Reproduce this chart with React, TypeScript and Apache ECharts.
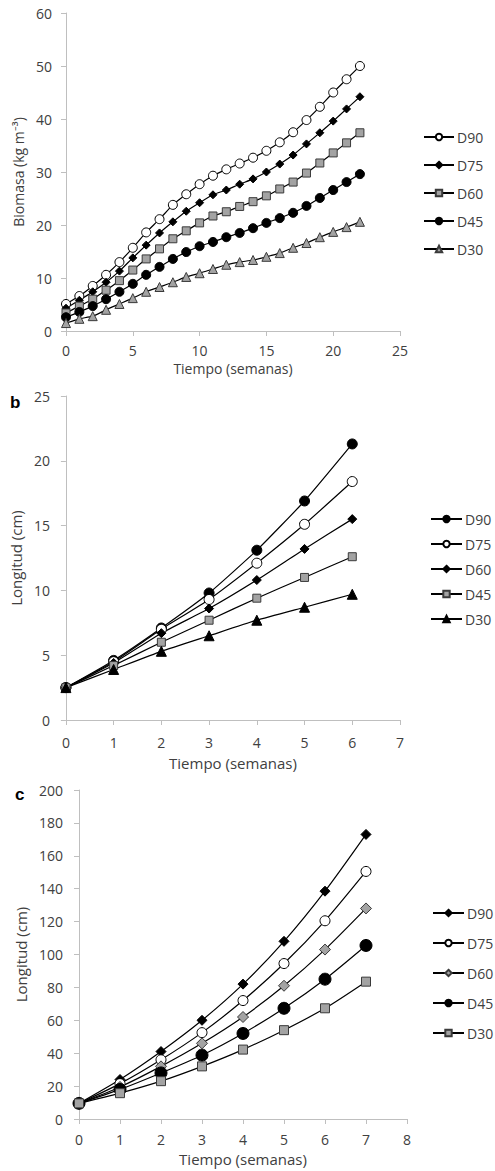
import React, { useEffect, useRef } from "react";
import * as echarts from "echarts";

// ---------- Data ----------
const weeksA = [0, 1, 2, 3, 4, 5, 6, 7, 8, 9, 10, 11, 12, 13, 14, 15, 16, 17, 18, 19, 20, 21, 22];
const aD90 = [5.1, 6.6, 8.5, 10.6, 13.0, 15.7, 18.6, 21.1, 23.8, 25.8, 27.7, 29.3, 30.5, 31.6, 32.7, 34.0, 35.6, 37.5, 39.8, 42.3, 45.0, 47.5, 50.0];
const aD75 = [4.3, 5.8, 7.4, 9.2, 11.3, 13.8, 16.2, 18.5, 20.6, 22.6, 24.2, 25.7, 26.6, 27.7, 28.7, 30.0, 31.5, 33.2, 35.3, 37.4, 39.6, 41.9, 44.2];
const aD60 = [3.4, 4.7, 6.0, 7.7, 9.5, 11.5, 13.6, 15.5, 17.4, 18.9, 20.4, 21.7, 22.5, 23.5, 24.4, 25.5, 26.8, 28.1, 29.8, 31.7, 33.6, 35.5, 37.4];
const aD45 = [2.6, 3.6, 4.7, 6.0, 7.4, 8.9, 10.6, 12.1, 13.6, 14.9, 16.0, 16.8, 17.7, 18.5, 19.4, 20.4, 21.3, 22.3, 23.6, 25.1, 26.6, 28.1, 29.6];
const aD30 = [1.5, 2.3, 2.8, 4.0, 5.1, 6.2, 7.4, 8.3, 9.2, 10.2, 10.9, 11.7, 12.5, 13.0, 13.4, 14.0, 14.7, 15.7, 16.6, 17.7, 18.7, 19.6, 20.6];

const weeksB = [0, 1, 2, 3, 4, 5, 6];
const bD90 = [2.5, 4.6, 7.1, 9.8, 13.1, 16.9, 21.3];
const bD75 = [2.5, 4.5, 7.0, 9.3, 12.1, 15.1, 18.4];
const bD60 = [2.5, 4.4, 6.7, 8.6, 10.8, 13.2, 15.5];
const bD45 = [2.5, 4.2, 6.0, 7.7, 9.4, 11.0, 12.6];
const bD30 = [2.5, 3.9, 5.3, 6.5, 7.7, 8.7, 9.7];

const weeksC = [0, 1, 2, 3, 4, 5, 6, 7];
const cD90 = [9.5, 24, 41, 60, 82, 108, 138.5, 173];
const cD75 = [9.5, 21.5, 36, 52.5, 72, 94.5, 120.5, 150.5];
const cD60 = [9.5, 19.5, 32, 46, 62, 81, 103, 128];
const cD45 = [9.5, 18, 28, 38.8, 52, 67.3, 85, 105.5];
const cD30 = [9.5, 15.7, 23, 32, 42.2, 54, 67.3, 83.5];

const seriesNames = ["D90", "D75", "D60", "D45", "D30"];
const xTitle = "Tiempo (semanas)";

// ---------- Styles ----------
const FONT = "Open Sans";
const TXT = "#404040";
const AXIS = "#bfbfbf";
const GRAY = "#a3a3a3";
const DARK = "#3a3a3a";

type MarkerStyle = { symbol: string; size: number; fill: string; border: string };

const mk = (symbol: string, size: number, fill: string, border = "#000"): MarkerStyle => ({ symbol, size, fill, border });

function lineSeries(name: string, xs: number[], ys: number[], m: MarkerStyle, smooth: number) {
  return {
    type: "line",
    name,
    data: xs.map((x, i) => [x, ys[i]]),
    smooth,
    symbol: m.symbol,
    symbolSize: m.size,
    showAllSymbol: true,
    lineStyle: { color: "#000", width: 1.2 },
    itemStyle: { color: m.fill, borderColor: m.border, borderWidth: 1 },
    emphasis: { disabled: true },
  };
}

type ChartCfg = {
  grid: { left: number; top: number; width: number; height: number };
  xMax: number;
  xInterval: number;
  yMax: number;
  yInterval: number;
  yName: string;
  yNameGap: number;
  yLabelMargin: number;
  xNameGap: number;
  xLabelMargin: number;
  nameSize: number;
  xs: number[];
  ys: number[][];
  markers: MarkerStyle[];
  smooth: number;
  legend: { left: number; top: number; gap: number; width: number };
  panel?: { text: string; x: number; y: number };
};

function buildOption(c: ChartCfg) {
  const series = seriesNames.map((n, i) => lineSeries(n, c.xs, c.ys[i], c.markers[i], c.smooth));
  const ax = {
    axisLine: { show: true, lineStyle: { color: AXIS, width: 1 } },
    axisTick: { show: true, inside: false, length: 5, lineStyle: { color: AXIS } },
    splitLine: { show: false },
    nameTextStyle: { color: TXT, fontSize: c.nameSize, fontFamily: FONT },
    nameLocation: "middle",
  };
  const labelBase = { color: TXT, fontSize: 14, fontFamily: FONT };
  return {
    animation: false,
    textStyle: { fontFamily: FONT },
    grid: { ...c.grid, containLabel: false },
    xAxis: {
      type: "value",
      min: 0,
      max: c.xMax,
      interval: c.xInterval,
      ...ax,
      axisLabel: { ...labelBase, margin: c.xLabelMargin },
      name: xTitle,
      nameGap: c.xNameGap,
    },
    yAxis: {
      type: "value",
      min: 0,
      max: c.yMax,
      interval: c.yInterval,
      ...ax,
      axisLabel: { ...labelBase, margin: c.yLabelMargin },
      name: c.yName,
      nameGap: c.yNameGap,
    },
    legend: {
      orient: "vertical",
      left: c.legend.left,
      top: c.legend.top,
      padding: 0,
      itemWidth: c.legend.width,
      itemHeight: 8,
      itemGap: c.legend.gap,
      selectedMode: false,
      textStyle: { color: TXT, fontSize: 14, fontFamily: FONT, padding: [0, 0, 0, -2] },
      data: seriesNames,
    },
    graphic: c.panel
      ? [
          {
            type: "text",
            left: c.panel.x,
            top: c.panel.y,
            style: { text: c.panel.text, font: "bold 17px 'Liberation Sans', Arial, sans-serif", fill: "#000" },
          },
        ]
      : [],
    series,
  };
}

const cfgA: ChartCfg = {
  grid: { left: 66, top: 13, width: 334, height: 318 },
  xMax: 25,
  xInterval: 5,
  yMax: 60,
  yInterval: 10,
  yName: "Biomasa (kg m⁻³)",
  yNameGap: 37,
  yLabelMargin: 14,
  xNameGap: 28,
  xLabelMargin: 12,
  nameSize: 14,
  xs: weeksA,
  ys: [aD90, aD75, aD60, aD45, aD30],
  markers: [
    mk("circle", 9, "#fff", "#000"),
    mk("diamond", 8, "#000"),
    mk("rect", 8, GRAY, DARK),
    mk("circle", 9, "#000"),
    mk("triangle", 9, GRAY, DARK),
  ],
  smooth: 0.2,
  legend: { left: 423, top: 130, gap: 14, width: 30 },
};

const cfgB: ChartCfg = {
  grid: { left: 65, top: 11, width: 335, height: 324 },
  xMax: 7,
  xInterval: 1,
  yMax: 25,
  yInterval: 5,
  yName: "Longitud (cm)",
  yNameGap: 37,
  yLabelMargin: 16,
  xNameGap: 35,
  xLabelMargin: 15,
  nameSize: 15,
  xs: weeksB,
  ys: [bD90, bD75, bD60, bD45, bD30],
  markers: [
    mk("circle", 10, "#000"),
    mk("circle", 10, "#fff", "#000"),
    mk("diamond", 9, "#000"),
    mk("rect", 8, GRAY, DARK),
    mk("triangle", 10, "#000"),
  ],
  smooth: 0.15,
  legend: { left: 430, top: 127, gap: 11, width: 31 },
  panel: { text: "b", x: 10, y: 9 },
};

const cfgC: ChartCfg = {
  grid: { left: 79, top: 15, width: 328, height: 330 },
  xMax: 8,
  xInterval: 1,
  yMax: 200,
  yInterval: 20,
  yName: "Longitud (cm)",
  yNameGap: 50,
  yLabelMargin: 16,
  xNameGap: 32,
  xLabelMargin: 13,
  nameSize: 15,
  xs: weeksC,
  ys: [cD90, cD75, cD60, cD45, cD30],
  markers: [
    mk("diamond", 10, "#000"),
    mk("circle", 10, "#fff", "#000"),
    mk("diamond", 11, GRAY, DARK),
    mk("circle", 12, "#000"),
    mk("rect", 9, GRAY, DARK),
  ],
  smooth: 0.25,
  legend: { left: 432, top: 131, gap: 16, width: 31 },
  panel: { text: "c", x: 15, y: 11 },
};

function Chart({ cfg, top, height }: { cfg: ChartCfg; top: number; height: number }) {
  const ref = useRef<HTMLDivElement>(null);
  useEffect(() => {
    if (!ref.current) return;
    const chart = echarts.init(ref.current, undefined, { renderer: "svg" });
    chart.setOption(buildOption(cfg) as any);
    return () => chart.dispose();
  }, [cfg]);
  return (
    <div
      ref={ref}
      style={{ position: "absolute", left: 0, top, width: 495, height, background: "#fff" }}
    />
  );
}

export default function App() {
  return (
    <div style={{ position: "absolute", left: 0, top: 0, width: 495, height: 1171, background: "#fff", overflow: "hidden" }}>
      <Chart cfg={cfgA} top={0} height={385} />
      <Chart cfg={cfgB} top={385} height={390} />
      <Chart cfg={cfgC} top={775} height={396} />
    </div>
  );
}
